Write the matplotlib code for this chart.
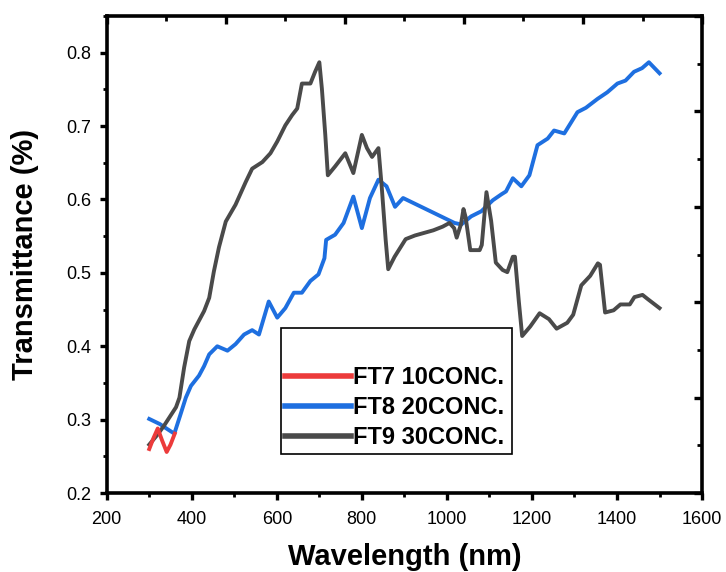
import matplotlib
matplotlib.use("Agg")
import matplotlib.pyplot as plt
from matplotlib.ticker import MultipleLocator

plt.rcParams["font.family"] = ["Liberation Sans", "DejaVu Sans"]

# FT7 10CONC. (red, only the short UV part)
ft7_wl = [300, 310, 320, 330, 341, 350, 360]
ft7_t = [0.260, 0.275, 0.288, 0.272, 0.256, 0.266, 0.281]

# FT8 20CONC. (blue)
ft8_wl = [300, 325, 343, 359, 374, 386, 398, 417, 429, 441, 460, 484, 503, 523,
          542, 558, 581, 601, 620, 640, 659, 679, 698, 712, 716, 737, 757, 780,
          800, 819, 839, 858, 878, 897, 1018, 1034, 1057, 1081, 1108, 1128, 1139,
          1155, 1175, 1194, 1213, 1237, 1252, 1276, 1307, 1327, 1354, 1377, 1401,
          1420, 1440, 1459, 1475, 1500]
ft8_t = [0.301, 0.294, 0.287, 0.281, 0.308, 0.330, 0.346, 0.360, 0.373, 0.389,
         0.400, 0.394, 0.403, 0.416, 0.422, 0.416, 0.461, 0.439, 0.452, 0.473,
         0.473, 0.489, 0.498, 0.520, 0.545, 0.552, 0.568, 0.604, 0.561, 0.602,
         0.627, 0.618, 0.590, 0.602, 0.568, 0.566, 0.577, 0.584, 0.599, 0.607,
         0.611, 0.629, 0.618, 0.633, 0.674, 0.683, 0.694, 0.690, 0.719, 0.725,
         0.737, 0.746, 0.758, 0.762, 0.774, 0.779, 0.787, 0.772]

# FT9 30CONC. (dark grey)
ft9_wl = [300, 320, 335, 363, 371, 382, 394, 406, 429, 441, 452, 464, 480, 503,
          527, 542, 566, 585, 601, 620, 636, 648, 659, 679, 690, 700, 706, 714,
          720, 737, 761, 780, 800, 812, 824, 839, 847, 856, 862, 877, 903, 925,
          968, 990, 1006, 1017, 1023, 1033, 1039, 1044, 1055, 1077, 1082, 1093,
          1104, 1115, 1131, 1142, 1155, 1160, 1169, 1177, 1196, 1218, 1240, 1258,
          1283, 1297, 1316, 1337, 1355, 1360, 1372, 1392, 1408, 1430, 1441, 1460,
          1473, 1500]
ft9_t = [0.266, 0.280, 0.292, 0.317, 0.330, 0.371, 0.407, 0.423, 0.448, 0.466,
         0.502, 0.535, 0.570, 0.593, 0.624, 0.642, 0.651, 0.663, 0.679, 0.701,
         0.715, 0.724, 0.758, 0.758, 0.774, 0.787, 0.751, 0.688, 0.633, 0.645,
         0.663, 0.636, 0.688, 0.670, 0.658, 0.670, 0.615, 0.545, 0.505, 0.522,
         0.546, 0.551, 0.558, 0.563, 0.568, 0.561, 0.548, 0.566, 0.587, 0.576,
         0.531, 0.531, 0.538, 0.610, 0.571, 0.514, 0.504, 0.501, 0.522, 0.522,
         0.462, 0.414, 0.427, 0.445, 0.437, 0.424, 0.432, 0.443, 0.483, 0.496,
         0.513, 0.511, 0.446, 0.449, 0.457, 0.457, 0.467, 0.470, 0.464, 0.452]

fig = plt.figure(figsize=(7.26, 5.72), dpi=100)
ax = fig.add_axes([0.147, 0.138, 0.820, 0.834])

ax.plot(ft7_wl, ft7_t, color="#ec3b3b", lw=2.8, label="FT7 10CONC.", zorder=4)
ax.plot(ft8_wl, ft8_t, color="#1e6fe0", lw=2.8, label="FT8 20CONC.", zorder=2)
ax.plot(ft9_wl, ft9_t, color="#4a4a4a", lw=2.8, label="FT9 30CONC.", zorder=3)

ax.set_xlim(200, 1600)
ax.set_ylim(0.2, 0.85)
ax.xaxis.set_major_locator(MultipleLocator(200))
ax.xaxis.set_minor_locator(MultipleLocator(100))
ax.yaxis.set_minor_locator(MultipleLocator(0.05))
ax.set_yticks([0.2, 0.3, 0.4, 0.5, 0.6, 0.7, 0.8])

for s in ax.spines.values():
    s.set_linewidth(2.6)
ax.tick_params(which="major", direction="out", length=5, width=2.4,
               labelsize=13, top=False, right=False)
ax.tick_params(axis="x", which="major", pad=8)
ax.tick_params(axis="y", which="major", pad=6)
ax.tick_params(which="minor", direction="out", length=3, width=2.0,
               top=False, right=False)

# mirrored top/right frame with its own (unlabelled) tick spacing
frame = fig.add_axes(ax.get_position(), frameon=False)
frame.set_xlim(0, 1)
frame.set_ylim(0, 1)
frame.xaxis.set_ticks_position("top")
frame.yaxis.set_ticks_position("right")
frame.xaxis.set_major_locator(MultipleLocator(0.2))
frame.yaxis.set_major_locator(MultipleLocator(0.2))
frame.xaxis.set_minor_locator(MultipleLocator(0.1))
frame.yaxis.set_minor_locator(MultipleLocator(0.1))
frame.tick_params(which="both", direction="in", color="black",
                  labeltop=False, labelright=False)
frame.tick_params(which="major", length=6, width=2.4)
frame.tick_params(which="minor", length=3.5, width=2.0)

ax.set_xlabel("Wavelength (nm)", fontsize=21, fontweight="bold", labelpad=11)
ax.set_ylabel("Transmittance (%)", fontsize=21, fontweight="bold", labelpad=20)

leg = ax.legend(loc="upper left", bbox_to_anchor=(0.292, 0.075, 0.389, 0.271),
                mode="expand", title=" ", title_fontsize=20,
                prop={"weight": "bold", "size": 17}, handlelength=2.8,
                handletextpad=0.08, borderpad=0.2, labelspacing=0.3,
                borderaxespad=0, fancybox=False, framealpha=1)
leg.get_frame().set_edgecolor("black")
leg.get_frame().set_linewidth(1.2)
for line in leg.get_lines():
    line.set_linewidth(4)

fig.savefig("out.png", dpi=100)
